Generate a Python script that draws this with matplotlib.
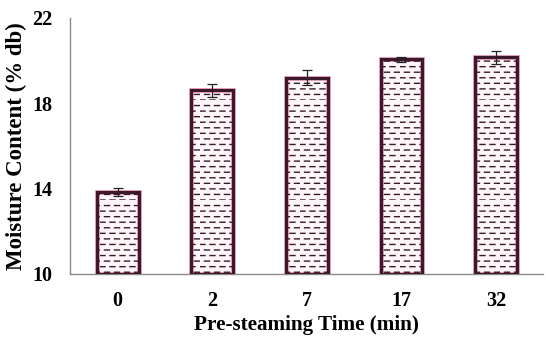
import numpy as np
import matplotlib
matplotlib.use('Agg')
import matplotlib.pyplot as plt
import matplotlib.hatch as mhatch
from matplotlib.path import Path

times = ['0', '2', '7', '17', '32']
moisture = [13.85, 18.6, 19.2, 20.05, 20.15]
errors = [0.2, 0.3, 0.35, 0.1, 0.3]


# rows of short dashes instead of solid lines for the '-' hatch
class DashedHorizontalHatch(mhatch.HatchPatternBase):
    def __init__(self, hatch, density):
        self.num_lines = int((hatch.count('-') + hatch.count('+')) * density)
        self.num_dashes = 10
        self.num_vertices = self.num_lines * self.num_dashes * 2

    def set_vertices_and_codes(self, vertices, codes):
        k = 0
        for i in range(self.num_lines):
            y = i / self.num_lines
            off = 0.0 if i % 2 == 0 else 0.45
            for j in range(self.num_dashes):
                x0 = (j + off) / self.num_dashes
                vertices[k] = (x0, y)
                vertices[k + 1] = (x0 + 0.5 / self.num_dashes, y)
                codes[k] = Path.MOVETO
                codes[k + 1] = Path.LINETO
                k += 2


mhatch._hatch_types = [DashedHorizontalHatch if t is mhatch.HorizontalHatch else t
                       for t in mhatch._hatch_types]

plt.rcParams['font.family'] = ['Liberation Serif', 'DejaVu Serif']
plt.rcParams['font.weight'] = 'bold'
plt.rcParams['hatch.color'] = '#8a8299'
plt.rcParams['hatch.linewidth'] = 1.0

fig = plt.figure(figsize=(5.46, 3.37), dpi=100)
ax = fig.add_axes([0.129, 0.187, 0.866, 0.76])

x = range(len(times))
# pinkish outer halo, then dark edge
ax.bar(x, [m - 10 for m in moisture], bottom=10, width=0.44,
       color='#fdf6f9', edgecolor='#e890b4', linewidth=3.4, zorder=2)
ax.bar(x, [m - 10 for m in moisture], bottom=10, width=0.44,
       color='none', edgecolor='#3a1a2a', linewidth=2.2, hatch='---', zorder=3)
ax.errorbar(x, moisture, yerr=errors, fmt='none', ecolor='#222222',
            elinewidth=0.9, capsize=3.5, capthick=0.9, zorder=4)

ax.set_ylim(10, 22)
ax.set_xlim(-0.5, 4.5)
ax.set_yticks([10, 14, 18, 22])
ax.set_xticks(list(x))
ax.set_xticklabels(times)
ax.tick_params(axis='both', length=0, labelsize=14.5)
ax.tick_params(axis='x', pad=12)
ax.tick_params(axis='y', pad=13)

for side in ['top', 'right']:
    ax.spines[side].set_visible(False)
for side in ['left', 'bottom']:
    ax.spines[side].set_color('#8a8a8a')
    ax.spines[side].set_linewidth(1.0)

ax.set_xlabel('Pre-steaming Time (min)', fontsize=15.2, fontweight='bold', labelpad=3)
ax.set_ylabel('Moisture Content (% db)', fontsize=16.5, fontweight='bold', labelpad=4)

fig.savefig('out.png', dpi=100)
